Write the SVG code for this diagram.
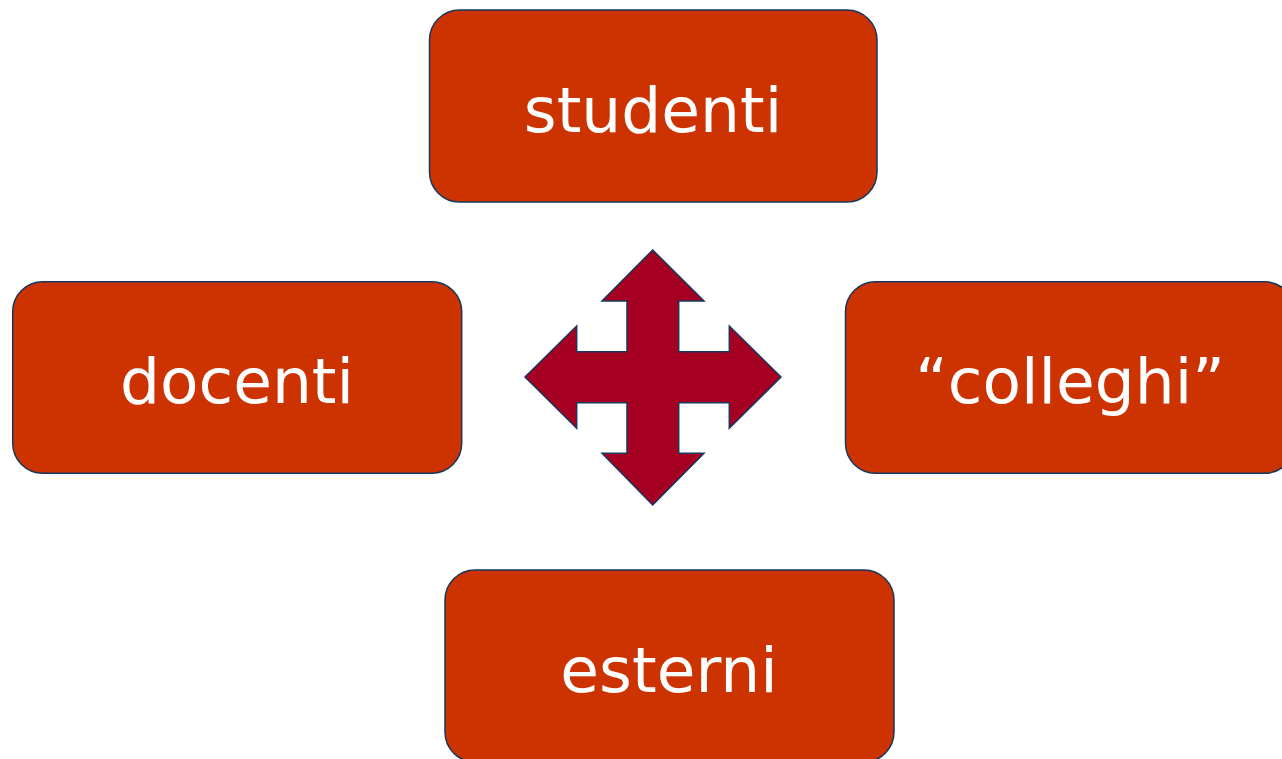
<svg xmlns="http://www.w3.org/2000/svg" width="1282" height="759" viewBox="0 0 1282 759">
<style>
.box{fill:#CC3300;stroke:#17375E;stroke-width:1.5}
.lbl{fill:#FFFFFF;font-family:"DejaVu Sans","Verdana",sans-serif;font-size:63px;text-anchor:middle}
.arrow{fill:#A50021;stroke:#17375E;stroke-width:1.5;stroke-linejoin:miter}
</style>
<rect width="1282" height="759" fill="#FFFFFF"/>
<g id="connectors">
<path class="arrow" d="M652.7,250 L704,301 L678.7,301 L678.7,351.7 L729.3,351.7 L729.3,326 L781,377 L729.3,428.3 L729.3,402.7 L678.7,402.7 L678.7,453.3 L704,453.3 L652.7,505 L602,453.3 L627,453.3 L627,402.7 L576.7,402.7 L576.7,428.3 L525,377 L576.7,326 L576.7,351.7 L627,351.7 L627,301 L602,301 Z"/>
</g>
<g id="studenti">
<rect class="box" x="429.5" y="10" width="447.5" height="192" rx="30" ry="30"/>
<text class="lbl" x="653" y="131.5">studenti</text>
</g>
<g id="docenti">
<rect class="box" x="12.7" y="281.7" width="449" height="191.6" rx="30" ry="30"/>
<text class="lbl" x="237" y="403.3">docenti</text>
</g>
<g id="colleghi">
<rect class="box" x="845.5" y="281.7" width="449" height="191.6" rx="30" ry="30"/>
<text class="lbl" x="1070" y="403.3">“colleghi”</text>
</g>
<g id="esterni">
<rect class="box" x="445" y="570" width="449" height="192" rx="30" ry="30"/>
<text class="lbl" x="669" y="691.7">esterni</text>
</g>
</svg>
